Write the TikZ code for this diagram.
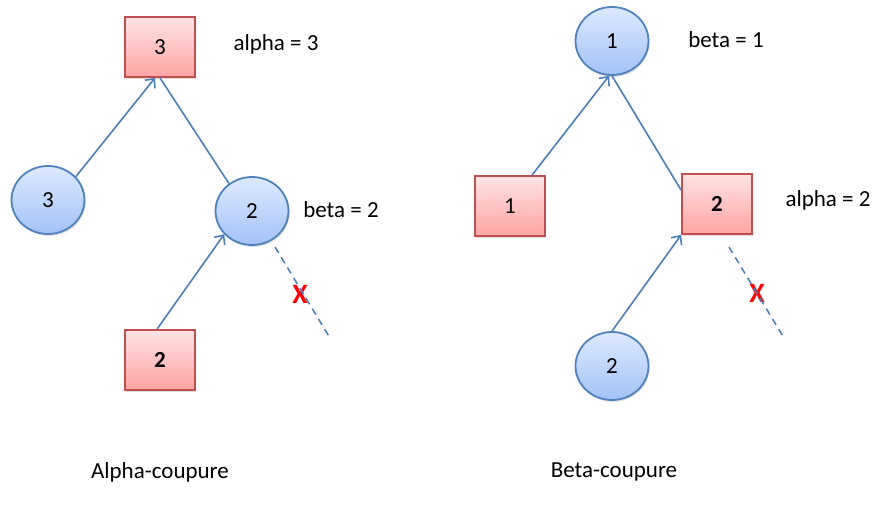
\documentclass[tikz,border=0pt]{standalone}
\usepackage{fontspec}
\setmainfont{Carlito}
\usetikzlibrary{shapes.geometric,arrows.meta,shadows}
\definecolor{boxline}{HTML}{C0504D}
\definecolor{boxtop}{HTML}{FFE3E3}
\definecolor{boxbot}{HTML}{FFA3A3}
\definecolor{circline}{HTML}{4F81BD}
\definecolor{circtop}{HTML}{DDE9FF}
\definecolor{circbot}{HTML}{A3C2F7}
\definecolor{edgecol}{HTML}{4A7EBB}
\tikzset{
  maxbox/.style={draw=boxline, line width=1.8pt, top color=boxtop, bottom color=boxbot,
    minimum width=70pt, minimum height=60pt, inner sep=0pt, font=\fontsize{23}{27}\selectfont,
    drop shadow={opacity=0.25, shadow xshift=1pt, shadow yshift=-2pt}},
  minnode/.style={ellipse, draw=circline, line width=1.8pt, top color=circtop, bottom color=circbot,
    minimum width=73pt, minimum height=68pt, inner sep=0pt, font=\fontsize{23}{27}\selectfont,
    drop shadow={opacity=0.25, shadow xshift=1pt, shadow yshift=-2pt}},
  lbl/.style={font=\fontsize{23}{27}\selectfont, inner sep=0pt},
  cut/.style={text=red, font=\fontsize{28}{32}\selectfont\bfseries, inner sep=0pt},
  edge/.style={draw=edgecol, line width=1.6pt},
  arr/.style={edge, -{Straight Barb[length=7pt,width=13pt,line width=1.6pt]}},
  cutline/.style={draw=edgecol, line width=1.5pt, dash pattern=on 7pt off 5pt}
}
\begin{document}
\begin{tikzpicture}[x=1pt,y=-1pt]
\useasboundingbox (0,0) rectangle (886,508);
% left tree
\node[maxbox] (b3) at (160,47) {3};
\node[minnode] (c3) at (48,200) {3};
\node[minnode] (c2) at (252,211) {2};
\node[maxbox] (b2) at (160,360) {\bfseries 2};
\node[lbl] (la) at (276,44) {alpha = 3};
\node[lbl] (lb) at (341,210) {beta = 2};
\node[cut] (x1) at (300,294) {X};
\node[lbl] (t1) at (160,472) {Alpha-coupure};
\draw[arr] (c3.40) -- ([xshift=-5pt]b3.south);
\draw[edge] (b3.south) -- (c2.130);
\draw[arr] ([xshift=-3pt]b2.north) -- (c2.220);
\coordinate (d1s) at (275,247);
\coordinate (d1e) at (330,338);
\draw[cutline] (d1s) -- (d1e);
% right tree
\node[minnode] (r1) at (612,41) {1};
\node[maxbox] (q1) at (510,206) {1};
\node[maxbox] (q2) at (717,204) {\bfseries 2};
\node[minnode] (r2) at (612,366) {2};
\node[lbl] (rb) at (726,40) {beta = 1};
\node[lbl] (ra) at (828,200) {alpha = 2};
\node[cut] (x2) at (757,293) {X};
\node[lbl] (t2) at (614,472) {Beta-coupure};
\draw[arr] ([xshift=22pt]q1.north) -- ([xshift=-3pt]r1.south);
\draw[edge] (r1.south) -- ([yshift=-17pt]q2.north west);
\draw[arr] (r2.north) -- (q2.south west);
\coordinate (d2s) at (729,247);
\coordinate (d2e) at (784,338);
\draw[cutline] (d2s) -- (d2e);
\end{tikzpicture}
\end{document}
